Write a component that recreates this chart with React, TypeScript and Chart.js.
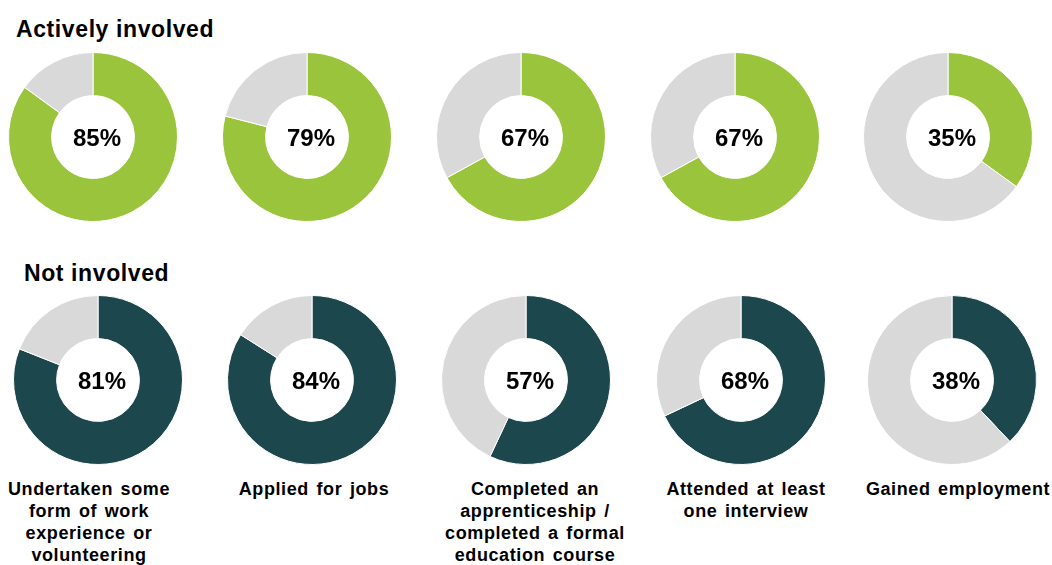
import React, { useEffect, useRef } from "react";
import { Chart, registerables } from "chart.js";

Chart.register(...registerables);

const groups = ["Actively involved", "Not involved"];
const categories = [
  ["Undertaken some", "form of work", "experience or", "volunteering"],
  ["Applied for jobs"],
  ["Completed an", "apprenticeship /", "completed a formal", "education course"],
  ["Attended at least", "one interview"],
  ["Gained employment"],
];
const activeValues = [85, 79, 67, 67, 35];
const notInvolvedValues = [81, 84, 57, 68, 38];

const GREEN = "#9bc43d";
const TEAL = "#1c474d";
const GREY = "#d9d9d9";
const FONT = "'Liberation Sans', Arial, Helvetica, sans-serif";

const centerText = {
  id: "centerText",
  afterDraw(chart: any) {
    const { ctx, chartArea } = chart;
    const txt = chart.options.plugins.centerText.text;
    ctx.save();
    ctx.font = `bold 24px ${FONT}`;
    ctx.fillStyle = "#000";
    ctx.textAlign = "center";
    ctx.textBaseline = "middle";
    ctx.fillText(txt, (chartArea.left + chartArea.right) / 2 + 4, (chartArea.top + chartArea.bottom) / 2 + 2);
    ctx.restore();
  },
};

function Donut({ value, color, cx, cy }: { value: number; color: string; cx: number; cy: number }) {
  const ref = useRef<HTMLCanvasElement>(null);
  useEffect(() => {
    if (!ref.current) return;
    const chart = new Chart(ref.current, {
      type: "doughnut",
      data: {
        labels: ["Yes", "No"],
        datasets: [
          {
            data: [value, 100 - value],
            backgroundColor: [color, GREY],
            borderColor: "#ffffff",
            borderWidth: 1,
          },
        ],
      },
      options: {
        animation: false,
        responsive: false,
        cutout: "49%",
        layout: { padding: 0 },
        plugins: {
          legend: { display: false },
          tooltip: { enabled: false },
          centerText: { text: `${value}%` },
        } as any,
      },
      plugins: [centerText],
    });
    return () => chart.destroy();
  }, [value, color]);
  const size = 170;
  return (
    <canvas
      ref={ref}
      width={size}
      height={size}
      style={{ position: "absolute", left: cx - size / 2, top: cy - size / 2, width: size, height: size }}
    />
  );
}

const topCx = [93, 307, 521, 735, 948];
const botCx = [98, 312, 526, 741, 952];
const labelCx = [89, 314, 535, 746, 958];

export default function App() {
  const titleStyle: React.CSSProperties = {
    position: "absolute",
    fontSize: 23,
    fontWeight: "bold",
    color: "#000",
    lineHeight: "28px",
    letterSpacing: "0.6px",
    whiteSpace: "nowrap",
  };
  return (
    <div style={{ position: "fixed", left: 0, top: 0, width: 1052, height: 565, background: "#fff", overflow: "hidden", fontFamily: FONT }}>
      <div style={{ ...titleStyle, left: 16, top: 15 }}>{groups[0]}</div>
      <div style={{ ...titleStyle, left: 24, top: 259 }}>{groups[1]}</div>
      {activeValues.map((v, i) => (
        <Donut key={"a" + i} value={v} color={GREEN} cx={topCx[i]} cy={137} />
      ))}
      {notInvolvedValues.map((v, i) => (
        <Donut key={"n" + i} value={v} color={TEAL} cx={botCx[i]} cy={380} />
      ))}
      {categories.map((lines, i) => (
        <div
          key={"l" + i}
          style={{
            position: "absolute",
            left: labelCx[i] - 110,
            width: 220,
            top: 478,
            textAlign: "center",
            fontSize: 18,
            fontWeight: "bold",
            lineHeight: "22px",
            letterSpacing: "0.6px",
            wordSpacing: "2px",
            color: "#000",
          }}
        >
          {lines.map((l, j) => (
            <div key={j} style={{ whiteSpace: "nowrap" }}>{l}</div>
          ))}
        </div>
      ))}
    </div>
  );
}
